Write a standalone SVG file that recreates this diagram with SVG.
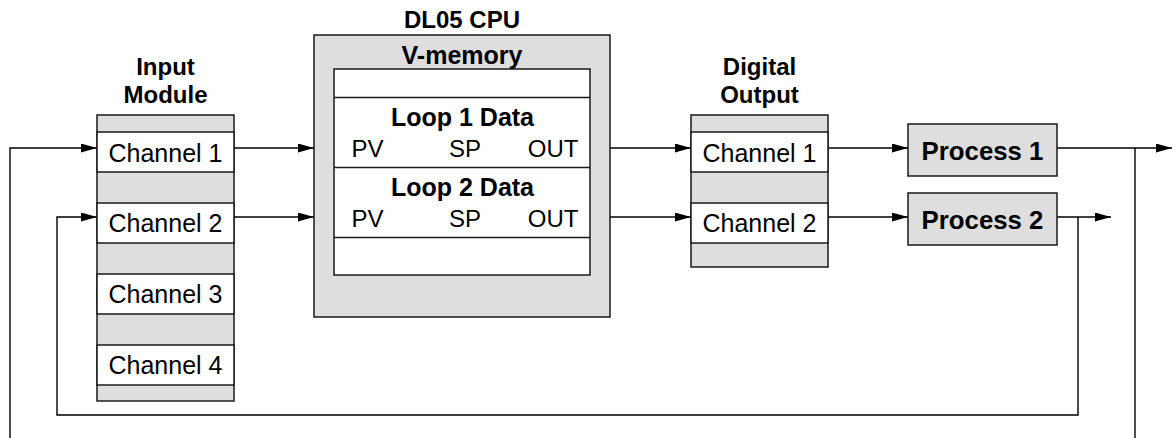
<svg xmlns="http://www.w3.org/2000/svg" width="1175" height="438" viewBox="0 0 1175 438">
<style>
.box{stroke:#1a1a1a;stroke-width:1.5}
.g{fill:#dedede}
.w{fill:#ffffff}
.ln{fill:none;stroke:#000;stroke-width:1.4}
text{font-family:"Liberation Sans",Arial,sans-serif;fill:#000}
.t{font-size:25px;text-anchor:middle}
.b{font-size:25px;font-weight:bold;text-anchor:middle}
.p{font-size:25.8px;font-weight:bold;text-anchor:middle}
.h{font-size:24px;font-weight:bold;text-anchor:middle}
.v{font-size:24px}
</style>
<defs>
<marker id="ah" viewBox="0 0 16 9" refX="16" refY="4.5" markerWidth="16" markerHeight="9" markerUnits="userSpaceOnUse" orient="auto">
<path d="M0,0 L16,4.5 L0,9 z" fill="#000"/>
</marker>
</defs>
<rect width="1175" height="438" fill="#ffffff"/>

<g id="connectors">
<path class="ln" d="M10,438 V148 H97" marker-end="url(#ah)"/>
<path class="ln" d="M1078,217 V415 H57 V217 H97" marker-end="url(#ah)"/>
<path class="ln" d="M234,148 H314" marker-end="url(#ah)"/>
<path class="ln" d="M234,217 H314" marker-end="url(#ah)"/>
<path class="ln" d="M610,148 H691" marker-end="url(#ah)"/>
<path class="ln" d="M610,217 H691" marker-end="url(#ah)"/>
<path class="ln" d="M828,148 H908" marker-end="url(#ah)"/>
<path class="ln" d="M828,217 H908" marker-end="url(#ah)"/>
<path class="ln" d="M1057,148 H1172" marker-end="url(#ah)"/>
<path class="ln" d="M1135,148 V438"/>
<path class="ln" d="M1057,217 H1111" marker-end="url(#ah)"/>
</g>

<g id="input-module">
<text class="h" x="165.5" y="75">Input</text>
<text class="h" x="165.5" y="102.5">Module</text>
<rect class="box g" x="97" y="115" width="137" height="286"/>
<rect class="box w" x="97" y="132" width="137" height="40"/>
<rect class="box w" x="97" y="203" width="137" height="40"/>
<rect class="box w" x="97" y="274" width="137" height="40"/>
<rect class="box w" x="97" y="345" width="137" height="40"/>
<text class="t" x="165.5" y="161.5">Channel 1</text>
<text class="t" x="165.5" y="232">Channel 2</text>
<text class="t" x="165.5" y="303">Channel 3</text>
<text class="t" x="165.5" y="374">Channel 4</text>
</g>

<g id="cpu">
<text class="h" x="462" y="27.5">DL05 CPU</text>
<rect class="box g" x="314" y="35" width="296" height="282"/>
<text class="b" x="462" y="63.5">V-memory</text>
<rect class="box w" x="334" y="69" width="256" height="206"/>
<line class="box" x1="334" y1="97.5" x2="590" y2="97.5"/>
<line class="box" x1="334" y1="167.5" x2="590" y2="167.5"/>
<line class="box" x1="334" y1="237.5" x2="590" y2="237.5"/>
<text class="b" x="462.5" y="125.5">Loop 1 Data</text>
<text class="v" x="351.5" y="157">PV</text>
<text class="v" x="465" y="157" text-anchor="middle">SP</text>
<text class="v" x="578.5" y="157" text-anchor="end">OUT</text>
<text class="b" x="462.5" y="195.5">Loop 2 Data</text>
<text class="v" x="351.5" y="226.5">PV</text>
<text class="v" x="465" y="226.5" text-anchor="middle">SP</text>
<text class="v" x="578.5" y="226.5" text-anchor="end">OUT</text>
</g>

<g id="digital-output">
<text class="h" x="759.5" y="75">Digital</text>
<text class="h" x="759.5" y="102.5">Output</text>
<rect class="box g" x="691" y="115" width="137" height="152"/>
<rect class="box w" x="691" y="132" width="137" height="40"/>
<rect class="box w" x="691" y="203" width="137" height="40"/>
<text class="t" x="759.5" y="161.5">Channel 1</text>
<text class="t" x="759.5" y="232">Channel 2</text>
</g>

<g id="process-1">
<rect class="box g" x="908" y="124" width="149" height="52"/>
<text class="p" x="982.5" y="159.5">Process 1</text>
</g>

<g id="process-2">
<rect class="box g" x="908" y="193" width="149" height="52"/>
<text class="p" x="982.5" y="228.5">Process 2</text>
</g>
</svg>
